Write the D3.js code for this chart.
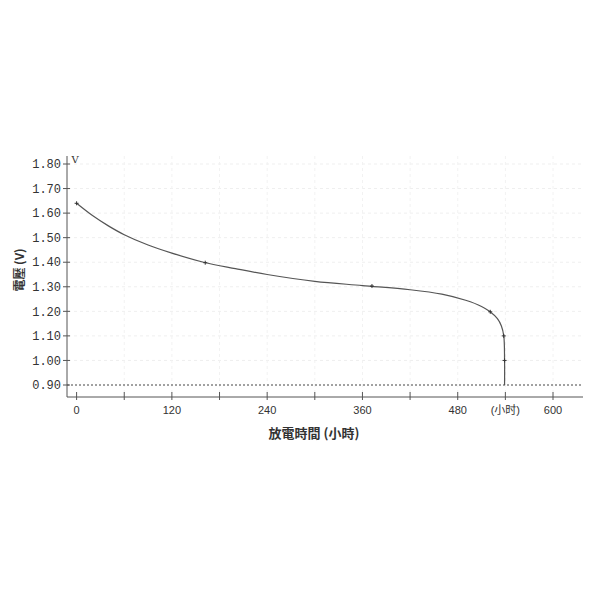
<!DOCTYPE html>
<html>
  <head>
    <meta charset="utf-8">
    <title>放電曲線</title>
    <script src="https://cdn.jsdelivr.net/npm/d3@7"></script>
  </head>

  <style>
    body {
      margin: 0;
      background: #ffffff;
    }
    text {
      fill: #333;
    }
  </style>

  <body>
    <script>

      // discharge curve (hours, volts)
      var hours = [0, 20, 40, 60, 90, 120, 160, 200, 240, 300, 360, 420, 460, 490, 510, 520, 530, 535, 538, 539, 539];
      var volts = [1.64, 1.59, 1.548, 1.512, 1.47, 1.437, 1.40, 1.374, 1.35, 1.322, 1.305, 1.288, 1.27, 1.245, 1.22, 1.20, 1.17, 1.14, 1.10, 1.00, 0.90];

      // little point marks on the curve
      var markHours = [0, 162, 372, 521, 538, 539];
      var markVolts = [1.64, 1.398, 1.303, 1.198, 1.10, 1.00];

      var yTicks = [0.90, 1.00, 1.10, 1.20, 1.30, 1.40, 1.50, 1.60, 1.70, 1.80];
      var xTicks = [0, 60, 120, 180, 240, 300, 360, 420, 480, 540, 600];
      var xTickLabels = ["0", "", "120", "", "240", "", "360", "", "480", "(小时)", "600"];
      var cutoff = 0.90;

      var width = 600,
        height = 600;

      var svg = d3.select("body")
        .append("svg")
        .attr("width", width)
        .attr("height", height);

      var x = d3.scaleLinear().domain([0, 600]).range([76.6, 553]);
      var y = d3.scaleLinear().domain([0.90, 1.80]).range([385, 164]);

      var plotLeft = 67, plotRight = 583, plotTop = 156, plotBottom = 397;

      // faint grid
      var grid = svg.append("g");
      grid.selectAll(".gy")
        .data(yTicks.slice(1))
        .enter()
        .append("line")
        .attr("x1", plotLeft + 1).attr("x2", plotRight)
        .attr("y1", d => y(d)).attr("y2", d => y(d))
        .attr("stroke", "#efefef")
        .attr("stroke-dasharray", "3,3");
      grid.selectAll(".gx")
        .data(xTicks.slice(1))
        .enter()
        .append("line")
        .attr("x1", d => x(d)).attr("x2", d => x(d))
        .attr("y1", plotTop).attr("y2", plotBottom)
        .attr("stroke", "#f2f2f2")
        .attr("stroke-dasharray", "3,3");

      // cut-off voltage line
      svg.append("line")
        .attr("x1", plotLeft).attr("x2", plotRight)
        .attr("y1", y(cutoff)).attr("y2", y(cutoff))
        .attr("stroke", "#444")
        .attr("stroke-width", 1)
        .attr("stroke-dasharray", "2,2");

      // axes lines
      svg.append("line")
        .attr("x1", plotLeft).attr("x2", plotLeft)
        .attr("y1", plotTop).attr("y2", plotBottom)
        .attr("stroke", "#555");
      svg.append("line")
        .attr("x1", plotLeft).attr("x2", plotRight)
        .attr("y1", plotBottom).attr("y2", plotBottom)
        .attr("stroke", "#555");

      // y ticks
      var yt = svg.selectAll(".yt")
        .data(yTicks)
        .enter()
        .append("g")
        .attr("transform", d => "translate(" + plotLeft + "," + y(d) + ")");
      yt.append("line")
        .attr("x1", -4).attr("x2", 3)
        .attr("stroke", "#555");
      yt.append("text")
        .attr("x", -6)
        .attr("dy", "0.35em")
        .attr("text-anchor", "end")
        .style("font-family", "Liberation Mono")
        .style("font-size", "12px")
        .text(d => d.toFixed(2));

      // x ticks
      var xt = svg.selectAll(".xt")
        .data(xTicks)
        .enter()
        .append("g")
        .attr("transform", d => "translate(" + x(d) + "," + plotBottom + ")");
      xt.append("line")
        .attr("y1", -5).attr("y2", 3)
        .attr("stroke", "#555");
      xt.append("text")
        .attr("y", 17)
        .attr("text-anchor", "middle")
        .style("font-family", "Liberation Sans, Noto Sans CJK SC")
        .style("font-size", "11px")
        .text((d, i) => xTickLabels[i]);

      // the curve
      var line = d3.line()
        .x(d => x(d[0]))
        .y(d => y(d[1]))
        .curve(d3.curveCatmullRom.alpha(0.5));

      svg.append("path")
        .datum(d3.zip(hours, volts))
        .attr("d", line)
        .attr("fill", "none")
        .attr("stroke", "#555")
        .attr("stroke-width", 1.2);

      svg.selectAll(".mk")
        .data(d3.zip(markHours, markVolts))
        .enter()
        .append("path")
        .attr("transform", d => "translate(" + x(d[0]) + "," + y(d[1]) + ")")
        .attr("d", "M-2,0H2M0,-2V2")
        .attr("stroke", "#333")
        .attr("stroke-width", 1);

      // labels
      svg.append("text")
        .attr("x", 75).attr("y", 163)
        .attr("text-anchor", "middle")
        .style("font-family", "DejaVu Serif")
        .style("font-size", "10px")
        .text("V");

      svg.append("text")
        .attr("x", 314).attr("y", 438)
        .attr("text-anchor", "middle")
        .style("font-family", "Noto Sans CJK TC")
        .style("font-size", "13px")
        .style("font-weight", "bold")
        .text("放電時間 (小時)");

      svg.append("text")
        .attr("transform", "translate(24,270) rotate(-90)")
        .attr("text-anchor", "middle")
        .style("font-family", "Noto Sans CJK TC")
        .style("font-size", "12px")
        .style("font-weight", "bold")
        .text("電壓 (V)");

    </script>
  </body>
</html>
